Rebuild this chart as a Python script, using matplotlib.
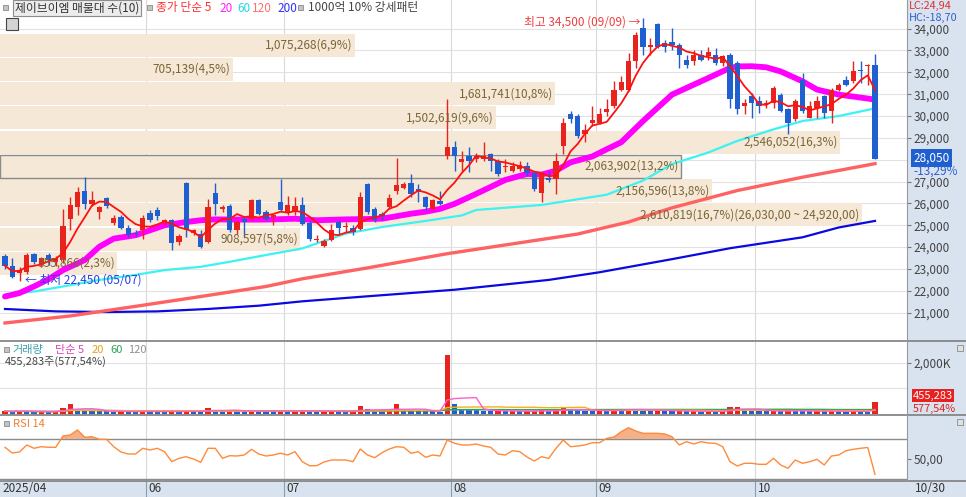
import numpy as np
import pandas as pd
import matplotlib
matplotlib.use("Agg")
import matplotlib.pyplot as plt
from matplotlib.patches import Rectangle
from matplotlib.lines import Line2D
from matplotlib.transforms import blended_transform_factory

plt.rcParams['font.family'] = ['Noto Sans CJK KR', 'DejaVu Sans']

# 일봉 (2025/04/30 ~ 2025/10/30), 가격 단위 원
opens = [23600, 23150, 22800, 22880, 23680, 23250, 23640, 23330, 23410, 25300,
         25830, 26560, 25990, 25610, 26260, 25100, 25380, 24890, 24650, 24770,
         25570, 25710, 25150, 25230, 24240, 26920, 24650, 24620, 24240, 26500,
         25760, 25900, 24770, 25300, 25300, 26170, 25600, 25380, 26060, 25560,
         25600, 25910, 25100, 24320, 24050, 24320, 25150, 24900, 24890, 24850,
         26890, 25760, 25530, 25830, 26560, 26710, 26920, 26670, 26290, 25760,
         26110, 28180, 28590, 27880, 28180, 28030, 28030, 28260, 27950, 27680,
         27500, 27580, 27730, 27380, 26470, 27170, 27120, 28640, 30100, 30000,
         29200, 29700, 29700, 30200, 30450, 31210, 31170, 32530, 34040, 33180,
         34200, 33330, 33400, 33260, 32570, 32500, 32800, 32730, 32800, 32420,
         32800, 32420, 30450, 30910, 30680, 30530, 30600, 30980, 30300, 29850,
         31670, 29920, 30380, 30910, 30230, 31210, 31670, 31590, 32120, 32300,
         32350]
highs = [23700, 23500, 23100, 23740, 23750, 23560, 23740, 23600, 25750, 26290,
         26740, 27230, 26590, 25900, 26290, 25450, 25450, 25000, 24800, 25450,
         25680, 25830, 25300, 25300, 24620, 26970, 24850, 24770, 26200, 26920,
         25950, 25980, 25230, 25380, 26210, 26210, 25680, 25530, 27100, 26360,
         26290, 26290, 25200, 24550, 24350, 25075, 25230, 25150, 25000, 26510,
         26920, 25830, 25600, 26440, 28075, 26970, 27350, 26890, 26360, 26210,
         26590, 30800, 28860, 28410, 28560, 28300, 28790, 28330, 28030, 28030,
         27880, 27950, 27880, 27420, 27420, 27500, 28330, 29920, 30230, 30070,
         29620, 30450, 30380, 30760, 31590, 31820, 32880, 33860, 34500, 33560,
         34250, 33480, 34010, 33330, 32800, 33030, 33030, 33180, 33100, 32800,
         32880, 32500, 30760, 31060, 30910, 30750, 31360, 31060, 30380, 30760,
         31970, 30680, 30910, 30980, 31290, 31520, 31820, 32530, 32500, 32360,
         32850]
lows = [22980, 22600, 22450, 22770, 23250, 23100, 23180, 23150, 23260, 24770,
        25450, 25760, 25900, 25300, 25800, 25000, 24850, 24470, 24500, 24390,
        25150, 25230, 25000, 23860, 24090, 24470, 24540, 23940, 24200, 25450,
        25600, 24700, 24620, 24470, 25230, 25450, 25230, 25000, 25600, 25450,
        25450, 25000, 24300, 24240, 24000, 24290, 24620, 24700, 24545, 24800,
        25530, 25150, 25230, 25760, 26440, 26640, 26290, 26060, 25680, 25710,
        25910, 28050, 27500, 27500, 27420, 27880, 27950, 27500, 27270, 27420,
        27420, 27500, 27270, 26590, 26060, 26960, 26440, 28260, 29700, 29010,
        28790, 29550, 29620, 30000, 30380, 31140, 31140, 32200, 32800, 32800,
        33100, 32950, 33030, 32200, 32200, 32350, 32500, 32570, 32350, 32270,
        30380, 30080, 30080, 29920, 30150, 30380, 30380, 30200, 29170, 29770,
        30150, 29920, 29920, 29920, 29700, 31140, 31360, 31490, 31490, 31440,
        28050]
closes = [23150, 22650, 22950, 23640, 23330, 23480, 23400, 23480, 24950, 25910,
          26510, 25990, 26170, 25830, 25860, 25330, 24890, 24575, 24620, 25350,
          25230, 25410, 25230, 24170, 24500, 24800, 24770, 24020, 25830, 25990,
          25830, 24770, 25150, 25150, 26140, 25530, 25300, 25450, 25700, 25910,
          25900, 25075, 24390, 24380, 24290, 24800, 24890, 24950, 24700, 26290,
          25605, 25230, 25410, 26260, 26860, 26890, 26440, 26510, 25830, 26170,
          25985, 28590, 28180, 28030, 27950, 28180, 28180, 27950, 27350, 27730,
          27730, 27770, 27380, 26670, 27350, 27050, 27950, 29700, 29850, 29090,
          29380, 29800, 30100, 30300, 31180, 31540, 32530, 33710, 33180, 33260,
          33180, 33180, 33260, 32800, 32350, 32800, 32570, 32950, 32420, 32730,
          30760, 30300, 30600, 30600, 30450, 30600, 31260, 30230, 29700, 30680,
          30230, 30450, 30680, 30150, 31210, 31440, 31410, 32070, 32050, 32350,
          28050]
# 거래량 (천주)
volumes = [110, 90, 120, 100, 85, 95, 80, 110, 222, 392,
           157, 140, 120, 110, 100, 95, 110, 90, 85, 120,
           100, 90, 80, 110, 95, 140, 100, 90, 222, 150,
           130, 140, 110, 100, 130, 115, 100, 90, 130, 110,
           120, 130, 115, 90, 95, 110, 100, 85, 90, 327,
           180, 130, 100, 140, 392, 160, 150, 120, 110, 100,
           95, 2326, 392, 196, 157, 140, 130, 120, 130, 100,
           110, 105, 110, 130, 140, 100, 150, 235, 183, 150,
           120, 110, 160, 140, 170, 160, 185, 180, 170, 130,
           140, 120, 110, 120, 100, 110, 95, 105, 100, 110,
           260, 290, 150, 130, 110, 100, 140, 120, 150, 130,
           120, 100, 110, 105, 130, 100, 95, 110, 95, 90,
           455.283]
rsi14 = [61.7, 56, 57, 64, 60.7, 62.3, 61.7, 61.7, 73, 74,
         79, 71.7, 72.3, 69.7, 69.7, 62.3, 57, 55, 55, 60.7,
         59, 60.7, 57.3, 47.3, 50.7, 52.3, 50, 46.7, 60.7, 60.7,
         50.7, 53.3, 53, 54, 59.7, 55, 53, 54, 55.7, 54,
         57.3, 47.3, 43.3, 43.3, 47, 49, 49, 49, 47.3, 60,
         54, 51.3, 56.3, 60, 62.3, 61.7, 55.7, 57.3, 51.7, 54,
         53, 69, 65.7, 64, 64, 65, 63, 61.7, 55, 54,
         58.3, 57.3, 52, 48, 52.3, 50.7, 60.7, 69, 62.3, 63,
         64, 66.3, 66.3, 70.7, 72, 77.3, 81.3, 78, 75.7, 75.7,
         75.7, 75, 72.3, 64, 67.3, 65, 67.3, 66, 65.7, 62.3,
         47.3, 43, 45.7, 45.7, 44.7, 44.7, 50.7, 44, 40.7, 49,
         45.7, 47.3, 49.7, 44, 53, 54, 58.3, 59.7, 60.7, 61.5,
         34.7]

# 이동평균
ma20_idx = [0, 2, 4, 6, 8, 11, 13, 15, 18, 20, 22, 25, 27, 29, 32, 36, 40, 43, 47, 52,
            56, 58, 60, 62, 65, 69, 72, 74, 76, 78, 81, 83, 85, 88, 92, 97, 100, 101, 103,
            105, 107, 110, 112, 115, 119, 120]
ma20_val = [21740, 21900, 22200, 22530, 22950, 23410, 24015, 24390, 24545, 24770, 25000,
            25150, 25230, 25270, 25260, 25260, 25300, 25230, 25270, 25300, 25530, 25620,
            25750, 25980, 26440, 27075, 27350, 27320, 27500, 27880, 28150, 28480, 28800,
            29770, 30980, 31740, 32200, 32270, 32280, 32230, 32040, 31590, 31210, 30980,
            30800, 30750]
ma60_idx = [0, 4, 8, 13, 18, 22, 27, 31, 36, 41, 47, 52, 58, 63, 65, 74, 83, 88, 92, 97,
            101, 106, 110, 115, 120]
ma60_val = [21820, 21970, 22200, 22500, 22730, 22950, 23100, 23330, 23640, 23940, 24620,
            24920, 25200, 25450, 25700, 25930, 26400, 27045, 27800, 28330, 28860, 29390,
            29770, 30000, 30350]
ma120_idx = [0, 9, 18, 27, 36, 41, 50, 61, 70, 79, 86, 92, 101, 110, 120]
ma120_val = [20530, 20850, 21290, 21740, 22200, 22550, 23050, 23700, 24150, 24600, 25150,
             25800, 26590, 27200, 27820]
ma200_idx = [0, 7, 14, 21, 28, 35, 41, 50, 62, 75, 82, 92, 100, 110, 115, 120]
ma200_val = [21170, 21060, 21030, 21060, 21170, 21320, 21520, 21750, 22050, 22500, 22850,
             23450, 23950, 24450, 24900, 25200]

# 매물대 10개 (아래에서 위로)
band_low = [22700, 23810, 24920, 26030, 27140, 28250, 29360, 30470, 31580, 32690]
band_step = 1110
band_vol = [355866, 908597, 2610819, 2156596, 2063902, 2546052, 1502619, 1681741, 705139, 1075268]
band_pct = ['2,3', '5,8', '16,7', '13,8', '13,2', '16,3', '9,6', '10,8', '4,5', '6,9']

month_start = [20, 39, 62, 82, 104]
month_label = ['06', '07', '08', '09', '10']
price_ticks = [21000, 22000, 23000, 24000, 25000, 26000, 27000, 29000,
               30000, 31000, 32000, 33000, 34000]

W, H = 966, 497
PR = 907          # 오른쪽 축 영역 시작(px)
RED, BLUE = '#e8231e', '#1f5fd0'
BAND_C = '#f6e8d6'
VP_FULL = 2748000


def fxy(x, y):
    return x / W, 1 - y / H


fig = plt.figure(figsize=(W / 100, H / 100), dpi=100)
fig.patch.set_facecolor('white')
fig.add_artist(Rectangle((PR / W, 0), 1 - PR / W, 1, transform=fig.transFigure,
                         fc='#d8e3ef', ec='none', zorder=-5))
fig.add_artist(Rectangle((0, 0), 1, 16 / H, transform=fig.transFigure,
                         fc='#d8e3ef', ec='none', zorder=-5))

ax = fig.add_axes([0, 1 - 340 / H, PR / W, 340 / H])
axv = fig.add_axes([0, 1 - 414 / H, PR / W, 72 / H])
axr = fig.add_axes([0, 1 - 480 / H, PR / W, 64 / H])

idx = np.arange(len(closes))
o, h, l, c = (np.array(a, dtype=float) for a in (opens, highs, lows, closes))
xlim = (-5 / 7.25, (PR - 5) / 7.25)

for a in (ax, axv, axr):
    a.set_xlim(*xlim)
    for s in a.spines.values():
        s.set_visible(False)
    a.tick_params(axis='x', bottom=False, labelbottom=False)
    a.yaxis.tick_right()
    a.tick_params(axis='y', direction='out', length=3, width=0.8, color='#777777',
                  labelcolor='#444444', labelsize=8.5, pad=1.5)
    for m in month_start:
        a.axvline(m - 0.5, color='#d9d9d9', lw=0.8, zorder=0.5)

# ---- 가격 패널
ax.set_ylim(19750, 35310)
for t in price_ticks + [28000]:
    ax.axhline(t, color='#e2e2e2', lw=0.8, zorder=0.5)
ax.set_yticks(price_ticks)
ax.set_yticklabels([f'{t:,}' for t in price_ticks])

tb = blended_transform_factory(ax.transAxes, ax.transData)
for k, (lo, v, p) in enumerate(zip(band_low, band_vol, band_pct)):
    frac = v / VP_FULL
    cur = lo <= closes[-1] < lo + band_step
    ax.add_patch(Rectangle((0, lo + 25), frac, band_step - 50, transform=tb,
                           fc=BAND_C, ec='#8a8a8a' if cur else 'none',
                           lw=1.0, zorder=1))
    lab = f'{v:,}({p}%)'
    if v == max(band_vol):
        lab += f'({lo + band_step:,},00 ~ {lo:,},00)'
    ax.text(frac - 2 / PR, lo + band_step / 2, lab, transform=tb, ha='right',
            va='center', fontsize=8.5, color='#7b6537', zorder=7)

up = c >= o
ccol = np.where(up, RED, BLUE)
ax.vlines(idx, l, h, colors=ccol, lw=1, zorder=4)
ax.bar(idx, np.maximum(np.abs(c - o), 45), bottom=np.minimum(o, c), width=0.7,
       color=ccol, lw=0, zorder=5)

ma5 = pd.Series(closes).rolling(5, min_periods=1).mean()
ax.plot(ma200_idx, ma200_val, color='#0a0ae0', lw=1.6, zorder=3)
ax.plot(ma120_idx, ma120_val, color='#ff6262', lw=2.4, zorder=3)
ax.plot(ma60_idx, ma60_val, color='#3cf2f2', lw=1.6, zorder=3)
ax.plot(ma20_idx, ma20_val, color='#ff00ff', lw=4.2, zorder=3, solid_capstyle='round',
        solid_joinstyle='round')
ax.plot(idx, ma5, color='#ff1010', lw=1.3, zorder=6)

imax = int(np.argmax(h))
imin = int(np.argmin(l))
ax.text(imax - 0.4, h[imax] - 180, '최고 34,500 (09/09) →', ha='right', va='center',
        fontsize=8.5, color='#f03c3c', zorder=8)
ax.text(imin + 0.7, l[imin] + 40, '← 최저 22,450 (05/07)', ha='left', va='center',
        fontsize=8.5, color='#2a3fe0', zorder=8)

# ---- 거래량 패널
axv.set_ylim(0, 2823)
for t in (1000, 2000):
    axv.axhline(t, color='#e2e2e2', lw=0.8, zorder=0.5)
vol = np.array(volumes)
vcol = [RED] + [RED if vol[i] >= vol[i - 1] else BLUE for i in range(1, len(vol))]
axv.bar(idx, vol, width=0.7, color=vcol, lw=0, zorder=3)
vs = pd.Series(volumes)
for n, col in ((120, '#a0a0a0'), (60, '#2ea84f'), (20, '#f2b01e'), (5, '#ff5fc8')):
    axv.plot(idx, vs.rolling(n, min_periods=1).mean(), color=col, lw=1, zorder=4)
axv.set_yticks([2000])
axv.set_yticklabels(['2,000K'])

# ---- RSI 패널
axr.set_ylim(29, 93)
r = np.array(rsi14)
axr.axhline(70, color='#8c8c8c', lw=1, zorder=1)
axr.axhline(30, color='#8c8c8c', lw=1, zorder=1)
axr.fill_between(idx, r, 70, where=r > 70, interpolate=True, color='#f4b088', lw=0, zorder=2)
axr.plot(idx, r, color='#ff8a3a', lw=1, zorder=3)
axr.set_yticks([50])
axr.set_yticklabels(['50,00'])

# ---- 구분선
for y in (341, 415, 481):
    fig.add_artist(Line2D([0, 1], [fxy(0, y)[1]] * 2, transform=fig.transFigure,
                          color='#7d7d7d', lw=1.2, zorder=10))
fig.add_artist(Line2D([PR / W] * 2, [fxy(0, 481)[1], 1], transform=fig.transFigure,
                      color='#9a9a9a', lw=0.8, zorder=10))

# ---- 날짜 축
td = blended_transform_factory(axr.transData, fig.transFigure)
for m, lab in zip(month_start, month_label):
    fig.add_artist(Line2D([m - 0.5] * 2, [0, 16 / H], transform=td, color='#8d9bb0', lw=0.8))
    fig.text(m - 0.5 + 0.3, fxy(0, 489)[1], lab, transform=td, ha='left', va='center',
             fontsize=8.5, color='#333333')
fig.text(*fxy(2, 489), '2025/04', ha='left', va='center', fontsize=8.5, color='#333333')
fig.text(*fxy(915, 489), '10/30', ha='left', va='center', fontsize=8.5, color='#333333')


# ---- 범례 / 라벨
def icon(x, y, s=5, fc='#c4c4c4'):
    fig.add_artist(Rectangle(fxy(x, y + s), s / W, s / H, transform=fig.transFigure,
                             fc=fc, ec='#8a8a8a', lw=0.6, zorder=11))


icon(3, 5)
fig.text(*fxy(15, 8), '제이브이엠 매물대 수(10)', ha='left', va='center', fontsize=8.5,
         color='#333333', zorder=11,
         bbox=dict(boxstyle='square,pad=0.15', fc='#ececec', ec='#8c8c8c', lw=0.8))
icon(147, 5)
for x, s, col in ((156, '종가 단순 5', '#ff3030'), (219, '20', '#ff20ff'),
                  (237, '60', '#20d8e8'), (252, '120', '#ff7070'), (277, '200', '#3030ff')):
    fig.text(*fxy(x, 8), s, ha='left', va='center', fontsize=8.5, color=col, zorder=11)
icon(298, 5)
fig.text(*fxy(308, 8), '1000억 10% 강세패턴', ha='left', va='center', fontsize=8.5,
         color='#444444', zorder=11)
fig.add_artist(Rectangle(fxy(6, 30), 12 / W, 12 / H, transform=fig.transFigure,
                         fc='#d4d4d4', ec='#444444', lw=0.8, zorder=11))

icon(4, 347)
for x, s, col in ((12, '거래량', '#3a9fb0'), (55, '단순 5', '#e040c0'),
                  (92, '20', '#eaa020'), (110, '60', '#30a050'), (128, '120', '#909090')):
    fig.text(*fxy(x, 350), s, ha='left', va='center', fontsize=8, color=col, zorder=11)
fig.text(*fxy(5, 362), f'{volumes[-1] * 1000:,.0f}주(577,54%)', ha='left', va='center',
         fontsize=8, color='#444444', zorder=11)
icon(4, 421)
fig.text(*fxy(13, 424), 'RSI 14', ha='left', va='center', fontsize=8, color='#f08030', zorder=11)
icon(957, 345, 6, '#e0e0e0')
icon(957, 419, 6, '#e0e0e0')

# 오른쪽 값 표시
fig.text(*fxy(909, 5.5), 'LC:24,94', ha='left', va='center', fontsize=7.8, color='#e03030', zorder=11)
fig.text(*fxy(909, 17.5), 'HC:-18,70', ha='left', va='center', fontsize=7.8, color='#3060d0', zorder=11)
fig.text(*fxy(913, 158), f'{closes[-1]:,}', ha='left', va='center', fontsize=8.5, color='white',
         zorder=11, bbox=dict(boxstyle='square,pad=0.2', fc=BLUE, ec='none'))
fig.text(*fxy(913, 171), '-13,29%', ha='left', va='center', fontsize=8.5, color='#3060d0', zorder=11)
fig.text(*fxy(913, 395.5), f'{volumes[-1] * 1000:,.0f}', ha='left', va='center', fontsize=8,
         color='white', zorder=11, bbox=dict(boxstyle='square,pad=0.1', fc='#e82020', ec='none'))
fig.text(*fxy(913, 408.5), '577,54%', ha='left', va='center', fontsize=7.8, color='#e02020', zorder=11)

fig.savefig('out.png', dpi=100)
